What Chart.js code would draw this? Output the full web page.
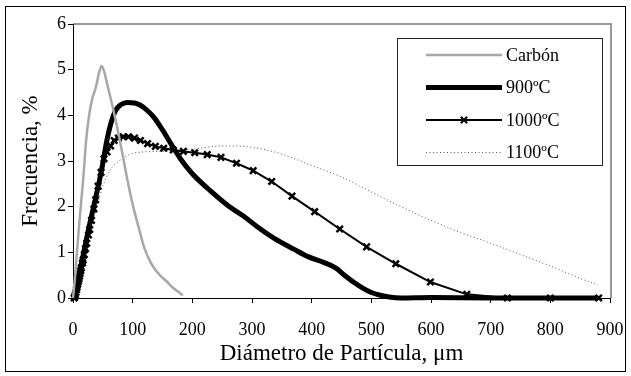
<!DOCTYPE html>
<html>
<head>
<meta charset="utf-8">
<title>Frecuencia vs Diámetro de Partícula</title>
<script src="https://cdn.jsdelivr.net/npm/chart.js@4.4.0/dist/chart.umd.min.js"></script>
<style>
  html, body { margin: 0; padding: 0; background: #fff; }
  #wrap { position: relative; width: 631px; height: 376px; }
</style>
</head>
<body>
<div id="wrap"><canvas id="chart" width="631" height="376"></canvas></div>
<script>
// Diámetro (µm) / Frecuencia (%)
var carbonD = [0, 3, 6, 10, 14, 18, 22, 27, 32, 38, 44, 48, 52, 57, 63, 70, 77, 84, 91, 100, 110, 120, 130, 138, 148, 158, 168, 178, 184];
var carbonF = [0, 0.4, 0.9, 1.55, 2.15, 2.75, 3.45, 4.0, 4.35, 4.6, 4.95, 5.08, 4.97, 4.7, 4.38, 3.98, 3.55, 3.08, 2.6, 2.05, 1.55, 1.08, 0.78, 0.62, 0.47, 0.35, 0.22, 0.12, 0.06];

var d900 = [0, 4, 8, 14, 20, 26, 32, 38, 44, 50, 56, 63, 71, 80, 91, 103, 113, 125, 136, 150, 164, 180, 200, 230, 260, 285, 310, 338, 370, 395, 420, 440, 455, 470, 485, 500, 515, 530, 550, 600, 700, 800, 880];
var f900 = [0, 0.1, 0.35, 0.75, 1.12, 1.5, 1.85, 2.2, 2.55, 2.95, 3.4, 3.8, 4.1, 4.23, 4.28, 4.27, 4.22, 4.1, 3.95, 3.68, 3.38, 3.05, 2.72, 2.35, 2.02, 1.8, 1.55, 1.3, 1.07, 0.9, 0.78, 0.66, 0.5, 0.35, 0.22, 0.12, 0.06, 0.02, 0, 0.01, 0, 0, 0];

var d1000 = [2, 3, 4, 5, 6, 7, 8, 9, 10, 11, 12, 13, 14, 16, 17, 19, 21, 23, 26, 28, 31, 35, 38, 42, 47, 52, 57, 63, 69, 76, 84, 93, 103, 113, 125, 138, 152, 168, 185, 204, 225, 248, 274, 302, 333, 367, 405, 447, 492, 541, 599, 660, 728, 800, 881];
var f1000 = [0, 0.03, 0.07, 0.12, 0.18, 0.24, 0.3, 0.36, 0.42, 0.48, 0.54, 0.6, 0.66, 0.77, 0.83, 0.95, 1.08, 1.2, 1.38, 1.5, 1.7, 1.95, 2.15, 2.45, 2.75, 3.05, 3.2, 3.33, 3.45, 3.5, 3.53, 3.53, 3.5, 3.45, 3.38, 3.32, 3.28, 3.24, 3.21, 3.18, 3.14, 3.08, 2.95, 2.79, 2.55, 2.23, 1.89, 1.51, 1.12, 0.75, 0.35, 0.08, 0, 0, 0];

var d1100 = [0, 5, 10, 20, 30, 40, 50, 62, 77, 96, 120, 150, 200, 250, 300, 350, 400, 450, 500, 550, 600, 650, 700, 750, 800, 850, 880];
var f1100 = [0, 0.2, 0.45, 1.0, 1.5, 2.0, 2.45, 2.8, 3.0, 3.15, 3.2, 3.21, 3.26, 3.33, 3.3, 3.15, 2.9, 2.65, 2.32, 2.0, 1.7, 1.43, 1.2, 0.95, 0.7, 0.43, 0.28];

var seriesNames = ['Carbón', '900ºC', '1000ºC', '1100ºC'];
var xTicks = [0, 100, 200, 300, 400, 500, 600, 700, 800, 900];
var yTicks = [0, 1, 2, 3, 4, 5, 6];

var serif = '"Liberation Serif", "DejaVu Serif", serif';

function toPoints(xs, ys) {
    return xs.map(function(x, i) { return { x: x, y: ys[i] }; });
}

// white page, outer frame and grey plot border
var framePlugin = {
    id: 'frame',
    beforeDraw: function(chart) {
        var ctx = chart.ctx;
        var a = chart.chartArea;
        ctx.save();
        ctx.fillStyle = '#fff';
        ctx.fillRect(0, 0, chart.width, chart.height);
        ctx.strokeStyle = '#000';
        ctx.lineWidth = 1;
        ctx.strokeRect(5.5, 6.5, 620, 365);
        ctx.strokeStyle = '#999';
        ctx.lineWidth = 2;
        ctx.beginPath();
        ctx.moveTo(a.left, a.top);
        ctx.lineTo(a.right + 1, a.top);
        ctx.lineTo(a.right + 1, a.bottom);
        ctx.stroke();
        ctx.restore();
    }
};

// legend box drawn inside the plot, like the original
var legendBoxPlugin = {
    id: 'legendBox',
    afterDatasetsDraw: function(chart) {
        var ctx = chart.ctx;
        var box = { x: 397.5, y: 38.5, w: 205, h: 127 };
        ctx.save();
        ctx.fillStyle = '#fff';
        ctx.fillRect(box.x, box.y, box.w, box.h);
        ctx.strokeStyle = '#222';
        ctx.lineWidth = 1;
        ctx.strokeRect(box.x, box.y, box.w, box.h);
        chart.data.datasets.forEach(function(ds, i) {
            var y = 55 + i * 32.5;
            ctx.strokeStyle = ds.borderColor;
            ctx.lineWidth = ds.borderWidth;
            ctx.setLineDash(ds.borderDash || []);
            ctx.beginPath();
            ctx.moveTo(426, y);
            ctx.lineTo(502, y);
            ctx.stroke();
            ctx.setLineDash([]);
            if (ds.pointRadius > 0) {
                Chart.helpers.drawPoint(ctx, {
                    pointStyle: ds.pointStyle,
                    radius: ds.pointRadius,
                    borderWidth: ds.pointBorderWidth
                }, 464, y);
            }
            ctx.fillStyle = '#000';
            ctx.font = '18px ' + serif;
            ctx.textBaseline = 'middle';
            ctx.textAlign = 'left';
            ctx.fillText(ds.label, 506, y + 1);
        });
        ctx.restore();
    }
};

var ctx = document.getElementById('chart');
new Chart(ctx, {
    type: 'scatter',
    data: {
        datasets: [{
            label: seriesNames[0],
            data: toPoints(carbonD, carbonF),
            showLine: true,
            borderColor: '#a8a8a8',
            borderWidth: 2.5,
            pointRadius: 0,
            cubicInterpolationMode: 'monotone',
            clip: 8
        }, {
            label: seriesNames[1],
            data: toPoints(d900, f900),
            showLine: true,
            borderColor: '#000',
            borderWidth: 5,
            pointRadius: 0,
            cubicInterpolationMode: 'monotone',
            clip: 8
        }, {
            label: seriesNames[2],
            data: toPoints(d1000, f1000),
            showLine: true,
            borderColor: '#000',
            borderWidth: 2,
            pointStyle: 'crossRot',
            pointRadius: 4.5,
            pointBorderWidth: 2.5,
            pointBorderColor: '#000',
            pointBackgroundColor: '#000',
            clip: 8
        }, {
            label: seriesNames[3],
            data: toPoints(d1100, f1100),
            showLine: true,
            borderColor: '#555',
            borderWidth: 1,
            borderDash: [1, 2.5],
            pointRadius: 0,
            cubicInterpolationMode: 'monotone',
            clip: 8
        }]
    },
    options: {
        responsive: false,
        animation: false,
        devicePixelRatio: 1,
        layout: { padding: { left: 0, top: 24, right: 21, bottom: 0 } },
        plugins: {
            legend: { display: false },
            tooltip: { enabled: false }
        },
        scales: {
            x: {
                type: 'linear',
                min: 0,
                max: 900,
                afterFit: function(scale) {
                    scale.height = 78;
                    // keep the plot width fixed, the labels fit in the margin
                    scale.paddingLeft = 0;
                    scale.paddingRight = 0;
                },
                afterBuildTicks: function(scale) {
                    scale.ticks = xTicks.map(function(v) { return { value: v }; });
                },
                grid: { display: true, drawOnChartArea: false, tickLength: 5, color: '#000' },
                border: { display: true, color: '#000', width: 1 },
                ticks: { color: '#000', font: { family: serif, size: 18 }, padding: 16, maxRotation: 0 },
                title: {
                    display: true,
                    text: 'Diámetro de Partícula, μm',
                    color: '#000',
                    font: { family: serif, size: 23 },
                    padding: { top: 0, bottom: 8 }
                }
            },
            y: {
                min: 0,
                max: 6,
                afterFit: function(scale) { scale.width = 73; },
                afterBuildTicks: function(scale) {
                    scale.ticks = yTicks.map(function(v) { return { value: v }; });
                },
                grid: { display: true, drawOnChartArea: false, tickLength: 5, color: '#000' },
                border: { display: true, color: '#000', width: 1 },
                ticks: { color: '#000', font: { family: serif, size: 18 }, padding: 2 },
                title: {
                    display: true,
                    text: 'Frecuencia, %',
                    color: '#000',
                    font: { family: serif, size: 23 },
                    padding: { top: 17, bottom: 0 }
                }
            }
        }
    },
    plugins: [framePlugin, legendBoxPlugin]
});
</script>
</body>
</html>
